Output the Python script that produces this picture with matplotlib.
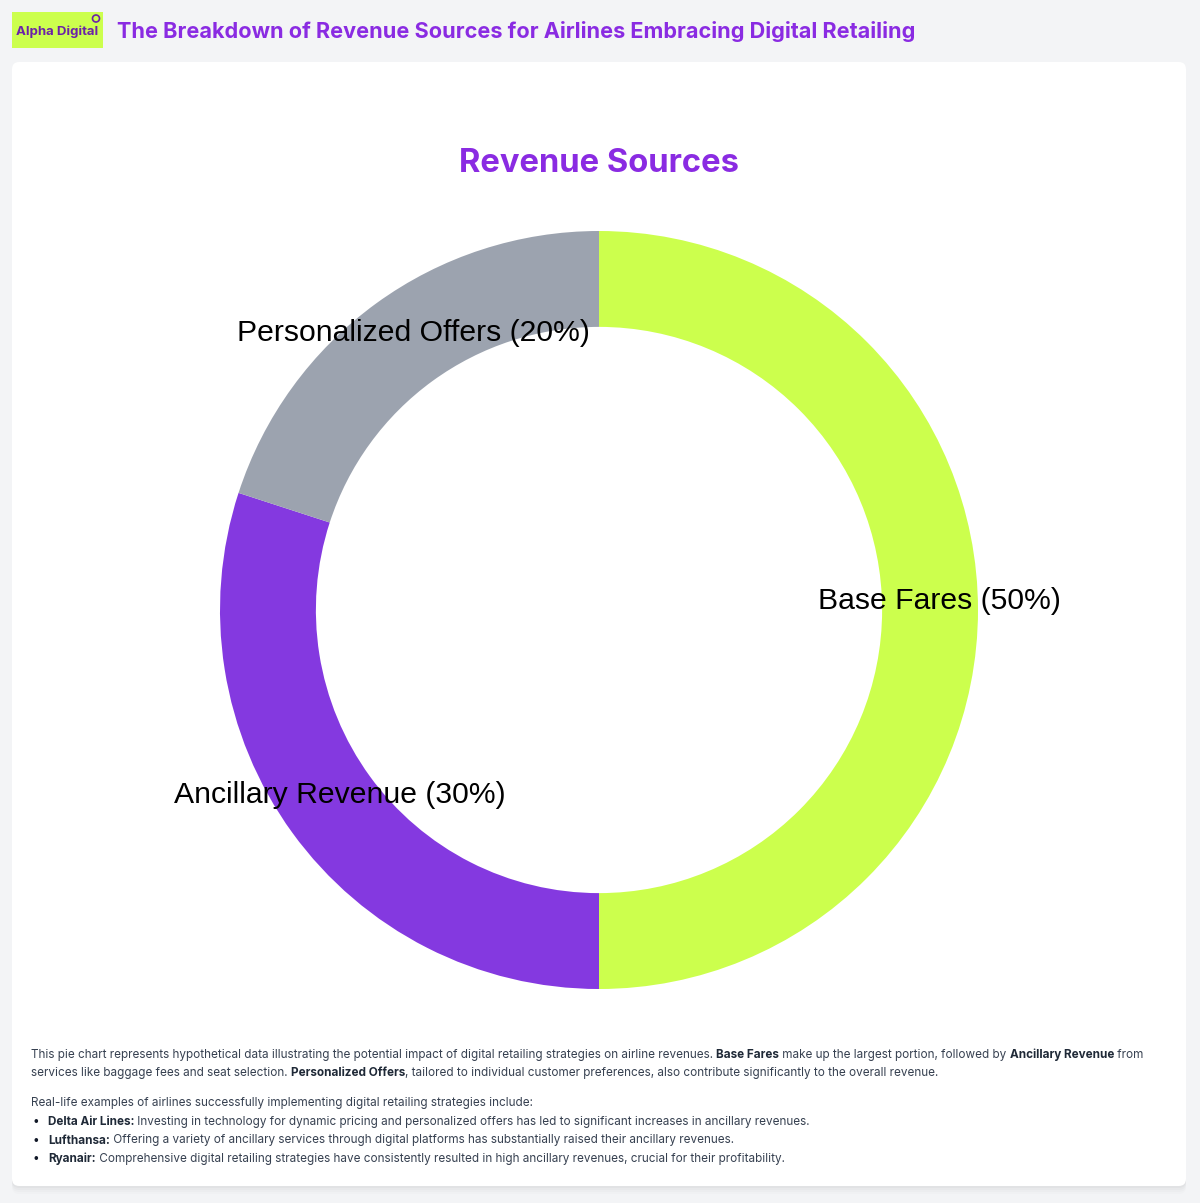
import matplotlib
matplotlib.use("Agg")
import matplotlib.pyplot as plt
import numpy as np
from matplotlib.patches import FancyBboxPatch, Rectangle, Circle

# data
categories = ["Base Fares", "Ancillary Revenue", "Personalized Offers"]
shares = [50, 30, 20]
slice_colors = ["#CCFF4D", "#8439E0", "#9CA3AF"]

header_title = "The Breakdown of Revenue Sources for Airlines Embracing Digital Retailing"
chart_title = "Revenue Sources"

note_lines = [
    [("This pie chart represents hypothetical data illustrating the potential impact of digital retailing strategies on airline revenues. ", False),
     ("Base Fares", True), (" make up the largest portion, followed by ", False),
     ("Ancillary Revenue", True), (" from", False)],
    [("services like baggage fees and seat selection. ", False), ("Personalized Offers", True),
     (", tailored to individual customer preferences, also contribute significantly to the overall revenue.", False)],
]
intro_line = "Real-life examples of airlines successfully implementing digital retailing strategies include:"
examples = [
    ("Delta Air Lines:", " Investing in technology for dynamic pricing and personalized offers has led to significant increases in ancillary revenues."),
    ("Lufthansa:", " Offering a variety of ancillary services through digital platforms has substantially raised their ancillary revenues."),
    ("Ryanair:", " Comprehensive digital retailing strategies have consistently resulted in high ancillary revenues, crucial for their profitability."),
]

W, H = 1200, 1203
PURPLE = "#8A2BE2"
fig = plt.figure(figsize=(W / 100, H / 100), dpi=100)
fig.patch.set_facecolor("#F3F4F6")


def fx(px):
    return px / W


def fy(py):
    return 1 - py / H


# card with soft shadow
for i, a in enumerate([0.025, 0.02, 0.015, 0.01]):
    fig.patches.append(FancyBboxPatch((fx(12), fy(1186) - (2 + i * 2) / H), fx(1174), (1124 + i * 2) / H,
                                      boxstyle="round,pad=0.0,rounding_size=0.006",
                                      transform=fig.transFigure, facecolor="black", alpha=a,
                                      edgecolor="none", zorder=0))
fig.patches.append(FancyBboxPatch((fx(12), fy(1186)), fx(1174), 1124 / H,
                                  boxstyle="round,pad=0.0,rounding_size=0.006",
                                  transform=fig.transFigure, facecolor="white",
                                  edgecolor="none", zorder=1))

# header logo + title
fig.patches.append(Rectangle((fx(12), fy(48)), fx(91), 36 / H, transform=fig.transFigure,
                             facecolor="#CCFF4D", edgecolor="none", zorder=2))
fig.text(fx(57), fy(31.5), "Alpha Digital", fontsize=9.5, fontweight="bold", color="#6B21A8",
         family="Inter", ha="center", va="center", zorder=3)
fig.patches.append(Circle((fx(96), fy(18.5)), 3.5 / W, transform=fig.transFigure,
                          facecolor="none", edgecolor="#6B21A8", lw=1.2, zorder=3))
fig.text(fx(117), fy(31), header_title, fontsize=15.6, fontweight="bold", color=PURPLE,
         family="Inter", ha="left", va="center")

fig.text(fx(599), fy(163), chart_title, fontsize=23.6, fontweight="bold", color=PURPLE,
         family="Inter", ha="center", va="center", zorder=3)

# doughnut
R = 379
ax = fig.add_axes([fx(599 - R), fy(610 + R), fx(2 * R), 2 * R / H])
ax.set_zorder(3)
wedges, _ = ax.pie(shares, colors=slice_colors, startangle=90, counterclock=False,
                   radius=1, wedgeprops=dict(width=0.253, edgecolor="none"))
ax.set_xlim(-1, 1)
ax.set_ylim(-1, 1)
ax.set_aspect("equal")
ax.axis("off")

for w, name, v in zip(wedges, categories, shares):
    mid = np.deg2rad((w.theta1 + w.theta2) / 2)
    r = 1 - 0.253 / 2
    ax.text(r * np.cos(mid) + 0.024, r * np.sin(mid) + 0.024, f"{name} ({v}%)",
            fontsize=21.7, family="Liberation Sans", ha="center", va="center", color="black")

# footer notes
renderer = fig.canvas.get_renderer()
FS = 8.45


def run_width(txt, bold, size):
    t1 = fig.text(0, 0, "|" + txt + "|", fontsize=size, family="Inter",
                  fontweight="bold" if bold else "normal")
    t2 = fig.text(0, 0, "||", fontsize=size, family="Inter",
                  fontweight="bold" if bold else "normal")
    wdt = t1.get_window_extent(renderer).width - t2.get_window_extent(renderer).width
    t1.remove()
    t2.remove()
    return wdt


def rich_line(x, y, runs, size=FS):
    for txt, bold in runs:
        fig.text(fx(x), fy(y), txt, fontsize=size, family="Inter",
                 fontweight="bold" if bold else "normal",
                 color="#1F2937" if bold else "#374151", ha="left", va="center", zorder=3)
        x += run_width(txt, bold, size)


rich_line(31, 1055, note_lines[0])
rich_line(31, 1073, note_lines[1])
rich_line(31, 1103, [(intro_line, False)])
for i, (head, body) in enumerate(examples):
    y = 1122 + i * 18.5
    fig.text(fx(33), fy(y), "\u2022", fontsize=FS, family="Inter", color="#111827",
             ha="left", va="center", zorder=3)
    rich_line(48, y, [(head, True), (body, False)])

fig.savefig("out.png", dpi=100, facecolor=fig.get_facecolor())
